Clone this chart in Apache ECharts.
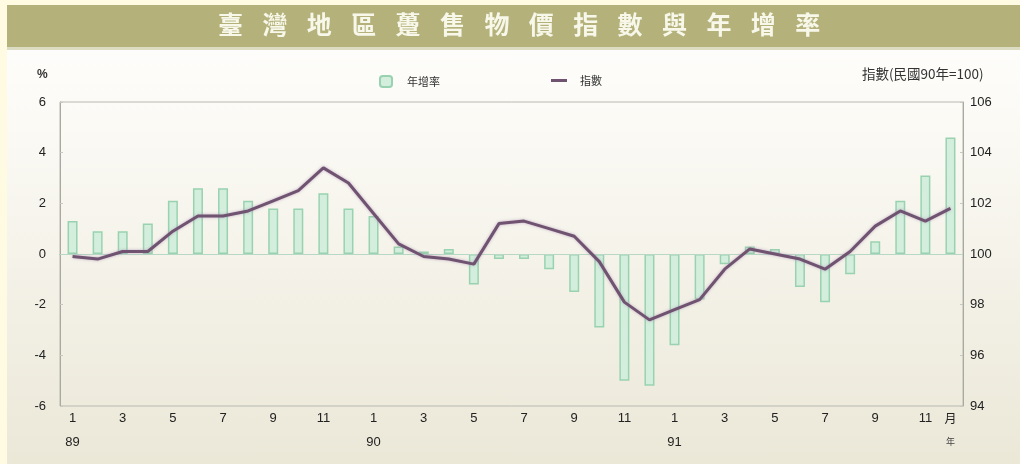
<!DOCTYPE html>
<html><head><meta charset="utf-8">
<script src="https://cdn.jsdelivr.net/npm/echarts@6/dist/echarts.min.js"></script>
<style>
html,body{margin:0;padding:0;}
#c{width:1020px;height:464px;background:linear-gradient(#ffffff 0px,#fbfaf5 120px,#ebe8d8 464px);}
</style></head>
<body><div id="c"></div>
<script>
const months = ['1','2','3','4','5','6','7','8','9','10','11','12',
                '1','2','3','4','5','6','7','8','9','10','11','12',
                '1','2','3','4','5','6','7','8','9','10','11','12'];
const yearLabels = {0:'89', 12:'90', 24:'91'};
const growth = [1.3,0.9,0.9,1.2,2.1,2.6,2.6,2.1,1.8,1.8,2.4,1.8,
                1.5,0.3,0.1,0.2,-1.2,-0.2,-0.2,-0.6,-1.5,-2.9,-5.0,-5.2,
                -3.6,-1.8,-0.4,0.3,0.2,-1.3,-1.9,-0.8,0.5,2.1,3.1,4.6];
const indexVals = [99.9,99.8,100.1,100.1,100.9,101.5,101.5,101.7,102.1,102.5,103.4,102.8,
                   101.6,100.4,99.9,99.8,99.6,101.2,101.3,101.0,100.7,99.7,98.1,97.4,
                   97.8,98.2,99.4,100.2,100.0,99.8,99.4,100.1,101.1,101.7,101.3,101.8];
const leftTicks = [-6,6,2];
const rightTicks = [94,106,2];
const titleText = '臺灣地區躉售物價指數與年增率';
const seriesNames = ['年增率','指數'];

const chart = echarts.init(document.getElementById('c'));
const font = '"Liberation Sans", Arial, sans-serif';
const cjk = '"Noto Sans CJK TC", sans-serif';
const titleChars = titleText.split('').map((ch, i) => ({
  type:'text', left: 218 + i*44.4, top: 12,
  style:{text: ch, fill:'#f7f7ea', font:'bold 25px ' + cjk}
}));

chart.setOption({
  animation:false,
  backgroundColor:'transparent',
  graphic:[
    {type:'rect', left:0, top:0, shape:{width:7, height:464}, style:{fill:'#fffbe2'}},
    {type:'rect', left:0, top:0, shape:{width:1020, height:5}, style:{fill:'#fffbe2'}},
    {type:'rect', left:7, top:5, shape:{width:1013, height:42}, style:{fill:'#b4b27a'}},
    {type:'rect', left:7, top:47, shape:{width:1013, height:3}, style:{fill:'#dcdcc2'}},
    ...titleChars,
    {type:'text', left:37, top:69, style:{text:'%', fill:'#333', font:'bold 12px ' + font}},
    {type:'text', left:862, top:67, style:{text:'指數(民國90年=100)', fill:'#333', font:'13.5px ' + cjk}}
  ],
  legend:[
    {data:[seriesNames[0]], left:374, top:70, itemWidth:12, itemHeight:11, itemGap:10,
     textStyle:{fontFamily:cjk, fontSize:11, color:'#333', padding:[0,0,0,10]}},
    {data:[{name:seriesNames[1], icon:'rect'}], left:546, top:70, itemWidth:16, itemHeight:3,
     textStyle:{fontFamily:cjk, fontSize:11, color:'#333', padding:[0,0,0,8]}}
  ],
  grid:{left:60, right:57, top:102, bottom:58, show:true, borderColor:'#b9b9b0', borderWidth:1},
  xAxis:{
    type:'category', data:months, boundaryGap:true,
    axisLine:{lineStyle:{color:'#a9a9a0'}},
    axisTick:{show:false},
    axisLabel:{
      interval:(i)=> i%2===0 || i===35,
      color:'#222', fontFamily:font, fontSize:13, lineHeight:24, margin:0,
      formatter:(v,i)=>{
        if(i===35) return '{m|月}\n{y|年}';
        return yearLabels[i]!==undefined ? v + '\n' + yearLabels[i] : v;
      },
      rich:{m:{fontFamily:cjk, fontSize:12, color:'#222', lineHeight:24}, y:{fontFamily:cjk, fontSize:9, color:'#444', lineHeight:24}}
    }
  },
  yAxis:[
    {type:'value', min:leftTicks[0], max:leftTicks[1], interval:leftTicks[2],
     axisLine:{show:true, lineStyle:{color:'#a9a9a0'}}, axisTick:{show:true, inside:true, length:3, lineStyle:{color:'#c8c8c0'}},
     splitLine:{show:false},
     axisLabel:{color:'#222', fontFamily:font, fontSize:13, margin:14}},
    {type:'value', min:rightTicks[0], max:rightTicks[1], interval:rightTicks[2], position:'right',
     axisLine:{show:true, lineStyle:{color:'#a9a9a0'}}, axisTick:{show:true, inside:true, length:3, lineStyle:{color:'#c8c8c0'}},
     splitLine:{show:false},
     axisLabel:{color:'#222', fontFamily:font, fontSize:13, margin:7}}
  ],
  series:[
    {name:seriesNames[0], type:'bar', data:growth, yAxisIndex:0, barWidth:10,
     itemStyle:{color:'#d3eedc', borderColor:'#99d2b0', borderWidth:1.5},
     markLine:{silent:true, symbol:'none', label:{show:false},
       lineStyle:{color:'#b8d8c6', type:'solid', width:1}, data:[{yAxis:0}]}},
    {name:seriesNames[1], type:'line', data:indexVals, yAxisIndex:1, symbol:'none',
     lineStyle:{color:'#6f5370', width:3, shadowColor:'rgba(170,140,180,0.7)', shadowBlur:3},
     itemStyle:{color:'#6f5370'}, z:5}
  ]
});
</script></body></html>
